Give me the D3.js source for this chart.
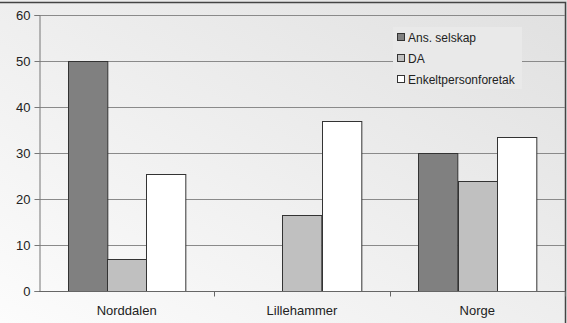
<!DOCTYPE html>
<html>
<head>
<meta charset="utf-8">
<script src="https://cdn.jsdelivr.net/npm/d3@7"></script>
<style>
body { margin: 0; background: #fff; }
text { font-family: "Liberation Sans", Arial, sans-serif; fill: #222; }
</style>
</head>
<body>
<div id="chart"></div>
<script>
const WIDTH = 567
const HEIGHT = 323
const categories = ["Norddalen", "Lillehammer", "Norge"]
const series = ["Ans. selskap", "DA", "Enkeltpersonforetak"]
const colors = ["#808080", "#c0c0c0", "#ffffff"]
const ans_selskap = [50, 0, 30]
const da = [7, 16.5, 24]
const enkelt = [25.5, 37, 33.5]
const y_ticks = [0, 10, 20, 30, 40, 50, 60]

const values = [ans_selskap, da, enkelt]
const margin = { left: 39, right: 2, top: 15, bottom: 32 }

const svg = d3.select("#chart")
    .append("svg")
    .attr("width", WIDTH)
    .attr("height", HEIGHT)

const grad = svg.append("defs").append("linearGradient")
    .attr("id", "bg")
    .attr("x1", "100%").attr("y1", "0%")
    .attr("x2", "0%").attr("y2", "100%")
grad.append("stop").attr("offset", "0%").attr("stop-color", "#e0e0e0")
grad.append("stop").attr("offset", "100%").attr("stop-color", "#fcfcfc")

svg.append("rect")
    .attr("width", WIDTH).attr("height", HEIGHT)
    .style("fill", "url(#bg)")

// frame on top and right
svg.append("path")
    .attr("d", `M0,2.5H${WIDTH - margin.right + 0.5}V${HEIGHT}`)
    .style("fill", "none").style("stroke", "#444").style("stroke-width", 1.5)

const x0 = d3.scaleBand()
    .domain(categories)
    .range([margin.left, WIDTH - margin.right])
    .paddingInner(0).paddingOuter(0)
const x1 = d3.scaleBand()
    .domain(series)
    .range([0, x0.bandwidth()])
    .paddingOuter(0.73)
const y = d3.scaleLinear()
    .domain([0, 60])
    .range([HEIGHT - margin.bottom, margin.top])

// gridlines
svg.append("g")
    .selectAll("line")
    .data(y_ticks.slice(1))
    .enter().append("line")
    .attr("x1", margin.left).attr("x2", WIDTH - margin.right)
    .attr("y1", d => Math.round(y(d)) + 0.5).attr("y2", d => Math.round(y(d)) + 0.5)
    .style("stroke", "#8a8a8a")

// bars
const rows = []
categories.forEach((c, i) => series.forEach((s, j) => rows.push({ c, s, j, v: values[j][i] })))
svg.append("g")
    .selectAll("rect")
    .data(rows.filter(d => d.v > 0))
    .enter().append("rect")
    .attr("x", d => Math.round(x0(d.c) + x1(d.s)) + 0.5)
    .attr("y", d => Math.round(y(d.v)) + 0.5)
    .attr("width", x1.bandwidth())
    .attr("height", d => Math.round(y(0)) - Math.round(y(d.v)))
    .style("fill", d => colors[d.j])
    .style("stroke", "#333")
    .style("stroke-width", 1)

// y axis
const yAxis = svg.append("g")
    .attr("transform", `translate(${margin.left + 0.5},0)`)
    .call(d3.axisLeft(y).tickValues(y_ticks).tickSize(5).tickPadding(4).tickFormat(d3.format("d")))
yAxis.select(".domain").style("stroke", "#777")
yAxis.selectAll(".tick line").style("stroke", "#777")
yAxis.selectAll("text").style("font-size", "13px").style("fill", "#222")

// x axis
const xAxis = svg.append("g")
    .attr("transform", `translate(0,${Math.round(y(0)) + 0.5})`)
xAxis.append("line")
    .attr("x1", margin.left).attr("x2", WIDTH - margin.right)
    .style("stroke", "#666")
xAxis.selectAll(".tk")
    .data(categories.slice(1).concat(["end"]))
    .enter().append("line")
    .attr("x1", (d, i) => Math.round(margin.left + x0.bandwidth() * (i + 1)) + 0.5)
    .attr("x2", (d, i) => Math.round(margin.left + x0.bandwidth() * (i + 1)) + 0.5)
    .attr("y2", 5)
    .style("stroke", "#666")
xAxis.selectAll("text")
    .data(categories)
    .enter().append("text")
    .attr("x", d => x0(d) + x0.bandwidth() / 2)
    .attr("y", 23)
    .attr("text-anchor", "middle")
    .style("font-size", "13px")
    .text(d => d)

// legend
const legend = svg.append("g").attr("transform", "translate(393,27)")
legend.append("rect")
    .attr("x", 0).attr("y", 0).attr("width", 129).attr("height", 62)
    .style("fill", "#e9e9e9")
const item = legend.selectAll(".item")
    .data(series)
    .enter().append("g")
    .attr("transform", (d, i) => `translate(4,${6 + i * 21})`)
item.append("rect")
    .attr("x", 0.5).attr("y", 0.5).attr("width", 7).attr("height", 7)
    .style("fill", (d, i) => colors[i])
    .style("stroke", "#333")
item.append("text")
    .attr("x", 11).attr("y", 8.5)
    .style("font-size", "12px")
    .text(d => d)
</script>
</body>
</html>
